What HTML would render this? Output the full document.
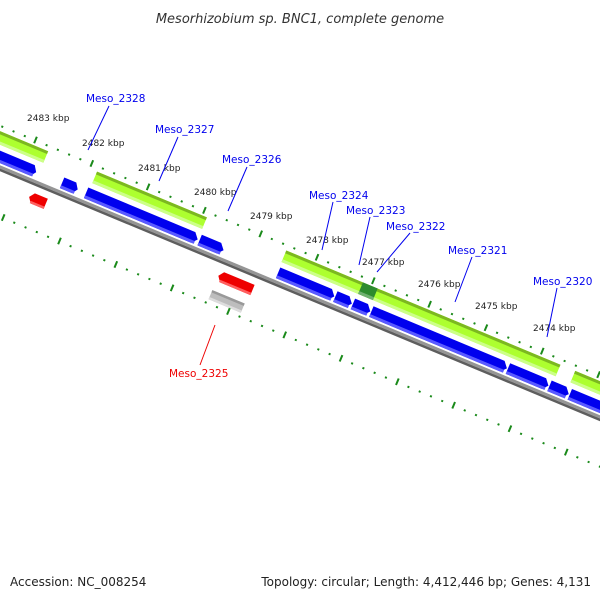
<!DOCTYPE html>
<html><head><meta charset="utf-8"><style>
html,body{margin:0;padding:0;background:#fff;}
svg{display:block;}
</style></head><body>
<svg width="600" height="600" viewBox="0 0 600 600" xmlns="http://www.w3.org/2000/svg" font-family="'DejaVu Sans','Liberation Sans',sans-serif">
<rect width="600" height="600" fill="#fff"/>
<text x="300" y="23" text-anchor="middle" font-size="13" font-style="italic" fill="#333">Mesorhizobium sp. BNC1, complete genome</text>

<g transform="translate(0,168) rotate(22.62)">
  <!-- backbone -->
  <rect x="-40" y="-2.5" width="760" height="3" fill="#959595"/>
  <rect x="-40" y="0.5" width="760" height="2.5" fill="#5e5e5e"/>

  <!-- green bars -->
  <g>
    <rect x="-40" y="-34" width="78" height="12.5" fill="#adff2f"/><rect x="-40" y="-34" width="78" height="3" fill="#7cb820"/><rect x="-40" y="-24.5" width="78" height="3" fill="#ccff88"/>
    <rect x="91" y="-34" width="119" height="12.5" fill="#adff2f"/><rect x="91" y="-34" width="119" height="3" fill="#7cb820"/><rect x="91" y="-24.5" width="119" height="3" fill="#ccff88"/>
    <rect x="296" y="-34" width="297" height="12.5" fill="#adff2f"/><rect x="296" y="-34" width="297" height="3" fill="#7cb820"/><rect x="296" y="-24.5" width="297" height="3" fill="#ccff88"/>
    <rect x="379" y="-34" width="16" height="12.5" fill="#2e8b2e"/><rect x="379" y="-24.5" width="16" height="3" fill="#70b070"/>
    <rect x="609" y="-34" width="100" height="12.5" fill="#adff2f"/><rect x="609" y="-34" width="100" height="3" fill="#7cb820"/><rect x="609" y="-24.5" width="100" height="3" fill="#ccff88"/>
  </g>

  <!-- blue genes -->
  <g fill="#0000ee">
    <polygon points="-40,-16 31,-16 35,-10 31,-4.5 -40,-4.5"/>
    <polygon points="63,-16 76,-16 80,-10 76,-4.5 63,-4.5"/>
    <polygon points="89,-16 205,-16 210,-10 205,-4.5 89,-4.5"/>
    <polygon points="212,-16 233,-16 238,-10 233,-4.5 212,-4.5"/>
    <polygon points="297,-16 353,-16 358,-10 353,-4.5 297,-4.5"/>
    <polygon points="359,-16 372,-16 377,-10 372,-4.5 359,-4.5"/>
    <polygon points="378,-16 392,-16 397,-10 392,-4.5 378,-4.5"/>
    <polygon points="398,-16 540,-16 545,-10 540,-4.5 398,-4.5"/>
    <polygon points="546,-16 585,-16 590,-10 585,-4.5 546,-4.5"/>
    <polygon points="591,-16 607,-16 612,-10 607,-4.5 591,-4.5"/>
    <polygon points="613,-16 720,-16 720,-4.5 613,-4.5"/>
  </g>
  <g fill="#5a5aff">
    <rect x="-40" y="-7.5" width="73" height="3"/><rect x="63" y="-7.5" width="15" height="3"/><rect x="89" y="-7.5" width="119" height="3"/><rect x="212" y="-7.5" width="24" height="3"/><rect x="297" y="-7.5" width="59" height="3"/><rect x="359" y="-7.5" width="16" height="3"/><rect x="378" y="-7.5" width="17" height="3"/><rect x="398" y="-7.5" width="145" height="3"/><rect x="546" y="-7.5" width="42" height="3"/><rect x="591" y="-7.5" width="19" height="3"/><rect x="613" y="-7.5" width="107" height="3"/>
  </g>

  <!-- reverse strand -->
  <polygon points="42,10 56,10 56,21 42,21 38,15.5" fill="#ee0000"/>
  <rect x="41" y="18.5" width="15" height="2.5" fill="#ff6060"/>
  <polygon points="247,10 280,10 280,21 247,21 243,15.5" fill="#ee0000"/>
  <rect x="246" y="18.5" width="34" height="2.5" fill="#ff6060"/>
  <rect x="243" y="31" width="35" height="10" fill="#bdbdbd"/>
  <rect x="243" y="31" width="35" height="2.5" fill="#999"/>
  <rect x="243" y="38.5" width="35" height="2.5" fill="#dddddd"/>
</g>

<!-- ticks -->
<g transform="translate(0,168) rotate(22.62)" fill="#1a8a1a">
  <g id="row">
  <rect x="-27" y="-40" width="2" height="2"/><rect x="-14.8" y="-40" width="2" height="2"/><rect x="-2.6" y="-40" width="2" height="2"/><rect x="9.6" y="-40" width="2" height="2"/>
  <rect x="21" y="-43" width="2" height="7"/>
  <rect x="33.2" y="-40" width="2" height="2"/><rect x="45.4" y="-40" width="2" height="2"/><rect x="57.6" y="-40" width="2" height="2"/><rect x="69.8" y="-40" width="2" height="2"/>
  <rect x="82" y="-43" width="2" height="7"/>
  <rect x="94.2" y="-40" width="2" height="2"/><rect x="106.4" y="-40" width="2" height="2"/><rect x="118.6" y="-40" width="2" height="2"/><rect x="130.8" y="-40" width="2" height="2"/>
  <rect x="143" y="-43" width="2" height="7"/>
  <rect x="155.2" y="-40" width="2" height="2"/><rect x="167.4" y="-40" width="2" height="2"/><rect x="179.6" y="-40" width="2" height="2"/><rect x="191.8" y="-40" width="2" height="2"/>
  <rect x="204" y="-43" width="2" height="7"/>
  <rect x="216.2" y="-40" width="2" height="2"/><rect x="228.4" y="-40" width="2" height="2"/><rect x="240.6" y="-40" width="2" height="2"/><rect x="252.8" y="-40" width="2" height="2"/>
  <rect x="265" y="-43" width="2" height="7"/>
  <rect x="277.2" y="-40" width="2" height="2"/><rect x="289.4" y="-40" width="2" height="2"/><rect x="301.6" y="-40" width="2" height="2"/><rect x="313.8" y="-40" width="2" height="2"/>
  <rect x="326" y="-43" width="2" height="7"/>
  <rect x="338.2" y="-40" width="2" height="2"/><rect x="350.4" y="-40" width="2" height="2"/><rect x="362.6" y="-40" width="2" height="2"/><rect x="374.8" y="-40" width="2" height="2"/>
  <rect x="387" y="-43" width="2" height="7"/>
  <rect x="399.2" y="-40" width="2" height="2"/><rect x="411.4" y="-40" width="2" height="2"/><rect x="423.6" y="-40" width="2" height="2"/><rect x="435.8" y="-40" width="2" height="2"/>
  <rect x="448" y="-43" width="2" height="7"/>
  <rect x="460.2" y="-40" width="2" height="2"/><rect x="472.4" y="-40" width="2" height="2"/><rect x="484.6" y="-40" width="2" height="2"/><rect x="496.8" y="-40" width="2" height="2"/>
  <rect x="509" y="-43" width="2" height="7"/>
  <rect x="521.2" y="-40" width="2" height="2"/><rect x="533.4" y="-40" width="2" height="2"/><rect x="545.6" y="-40" width="2" height="2"/><rect x="557.8" y="-40" width="2" height="2"/>
  <rect x="570" y="-43" width="2" height="7"/>
  <rect x="582.2" y="-40" width="2" height="2"/><rect x="594.4" y="-40" width="2" height="2"/><rect x="606.6" y="-40" width="2" height="2"/><rect x="618.8" y="-40" width="2" height="2"/>
  <rect x="631" y="-43" width="2" height="7"/>
  <rect x="643.2" y="-40" width="2" height="2"/><rect x="655.4" y="-40" width="2" height="2"/><rect x="667.6" y="-40" width="2" height="2"/><rect x="679.8" y="-40" width="2" height="2"/>
  </g>
  <use href="#row" transform="translate(0,84)"/>
</g>

<!-- kbp labels -->
<g font-size="9" fill="#222">
  <text x="27" y="121">2483 kbp</text>
  <text x="82" y="146">2482 kbp</text>
  <text x="138" y="171">2481 kbp</text>
  <text x="194" y="195">2480 kbp</text>
  <text x="250" y="219">2479 kbp</text>
  <text x="306" y="243">2478 kbp</text>
  <text x="362" y="265">2477 kbp</text>
  <text x="418" y="287">2476 kbp</text>
  <text x="475" y="309">2475 kbp</text>
  <text x="533" y="331">2474 kbp</text>
</g>

<!-- gene labels -->
<g stroke="#0000ee" stroke-width="1">
  <line x1="109" y1="106" x2="88" y2="150"/>
  <line x1="178" y1="137" x2="159" y2="181"/>
  <line x1="247" y1="167" x2="228" y2="211"/>
  <line x1="333" y1="202" x2="322" y2="250"/>
  <line x1="370" y1="217" x2="359" y2="265"/>
  <line x1="410" y1="233" x2="377" y2="272"/>
  <line x1="472" y1="257" x2="455" y2="302"/>
  <line x1="557" y1="288" x2="547" y2="337"/>
</g>
<line x1="215" y1="325" x2="200" y2="365" stroke="#ee0000" stroke-width="1"/>
<g font-size="10.5" fill="#0000ee">
  <text x="86" y="102">Meso_2328</text>
  <text x="155" y="133">Meso_2327</text>
  <text x="222" y="163">Meso_2326</text>
  <text x="309" y="199">Meso_2324</text>
  <text x="346" y="214">Meso_2323</text>
  <text x="386" y="230">Meso_2322</text>
  <text x="448" y="254">Meso_2321</text>
  <text x="533" y="285">Meso_2320</text>
  <text x="169" y="377" fill="#ee0000">Meso_2325</text>
</g>

<text x="10" y="586" font-size="12" fill="#222">Accession: NC_008254</text>
<text x="591" y="586" font-size="12" fill="#222" text-anchor="end">Topology: circular; Length: 4,412,446 bp; Genes: 4,131</text>
</svg>
</body></html>
